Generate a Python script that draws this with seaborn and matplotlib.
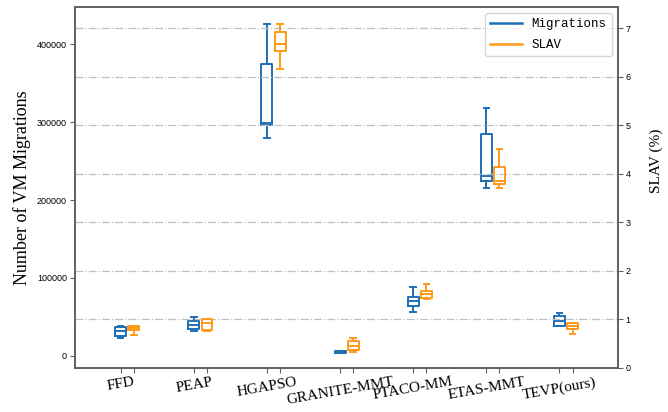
import numpy as np
import pandas as pd
import matplotlib
matplotlib.use("Agg")
import matplotlib.pyplot as plt
from matplotlib.lines import Line2D
import seaborn as sns

# ---- data (five-number summaries) ----
categories = ["FFD", "PEAP", "HGAPSO", "GRANITE-MMT", "PTACO-MM", "ETAS-MMT", "TEVP(ours)"]
# each row: lower whisker, Q1, median, Q3, upper whisker
migrations = [
    [22700, 25300, 31700, 36500, 38200],
    [31300, 33900, 39400, 44600, 49300],
    [280000, 296300, 299300, 374300, 425700],
    [3000, 3500, 4500, 5500, 6000],
    [56100, 64200, 70700, 75800, 88600],
    [215000, 224400, 230800, 285200, 318200],
    [38100, 38200, 44600, 51000, 55200],
]
slav = [
    [0.68, 0.78, 0.82, 0.86, 0.87],
    [0.76, 0.78, 0.92, 1.00, 1.00],
    [6.16, 6.52, 6.67, 6.93, 7.08],
    [0.32, 0.37, 0.45, 0.56, 0.61],
    [1.42, 1.43, 1.52, 1.58, 1.73],
    [3.71, 3.79, 3.84, 4.14, 4.51],
    [0.70, 0.80, 0.86, 0.92, 0.92],
]
left_ticks = [0, 100000, 200000, 300000, 400000]
right_ticks = [0, 1, 2, 3, 4, 5, 6, 7]
series_names = ["Migrations", "SLAV"]

BLUE = "#1f6fb4"
ORANGE = "#ff9a1a"
off = 0.09

df_m = pd.DataFrame([(i - off, v) for i, row in enumerate(migrations) for v in row],
                    columns=["pos", "value"])
df_s = pd.DataFrame([(i + off, v) for i, row in enumerate(slav) for v in row],
                    columns=["pos", "value"])

fig = plt.figure(figsize=(6.68, 4.12), dpi=100)
ax1 = fig.add_axes([0.1118, 0.1075, 0.925 - 0.1118, 0.983 - 0.1075])
ax2 = ax1.twinx()

sns.boxplot(data=df_m, x="pos", y="value", native_scale=True, width=0.15,
            fill=False, color=BLUE, whis=np.inf, linewidth=1.4, ax=ax1)
sns.boxplot(data=df_s, x="pos", y="value", native_scale=True, width=0.15,
            fill=False, color=ORANGE, whis=np.inf, linewidth=1.4, ax=ax2)

ax1.set_xlim(-0.72, 6.71)
ax1.set_ylim(-15400, 447900)
ax2.set_ylim(0, 7.437)

ax1.set_yticks(left_ticks)
ax1.set_yticklabels([str(t) for t in left_ticks], family="Liberation Sans", fontsize=6.5)
ax2.set_yticks(right_ticks)
ax2.set_yticklabels([str(t) for t in right_ticks], family="Liberation Sans", fontsize=6.5)

xt = []
xl = []
for i, c in enumerate(categories):
    xt += [i - off, i + off]
    xl += [c, ""]
ax1.set_xticks(xt)
ax1.set_xticklabels(xl, family="Liberation Serif", fontsize=11, rotation=10, ha="center")
ax1.set_xlabel("")
ax2.set_xlabel("")

ax1.set_ylabel("Number of VM Migrations", family="Liberation Serif", fontsize=13)
ax2.set_ylabel("SLAV (%)", family="Liberation Serif", fontsize=11)
ax2.yaxis.set_label_coords(1.058, 0.573)

ax2.grid(axis="y", linestyle="-.", color="#c0c0c0", linewidth=0.9)
ax1.grid(False)

for ax in (ax1, ax2):
    for s in ax.spines.values():
        s.set_color("#606060")
        s.set_linewidth(1.2)
    ax.tick_params(length=3.5, width=0.8, color="#606060", pad=2)

handles = [Line2D([], [], color=BLUE, lw=1.8), Line2D([], [], color=ORANGE, lw=1.8)]
leg = ax2.legend(handles, series_names, loc="upper right", prop={"family": "Liberation Mono", "size": 9},
                 handlelength=2.5, labelspacing=0.7, frameon=True, fancybox=True)
leg.get_frame().set_edgecolor("#cccccc")

fig.savefig("out.png", dpi=100)
